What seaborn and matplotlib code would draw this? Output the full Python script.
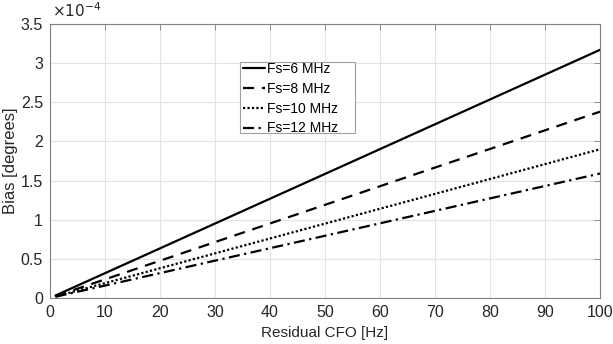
import numpy as np
import pandas as pd
import matplotlib
matplotlib.use("Agg")
import matplotlib.pyplot as plt
import seaborn as sns
from matplotlib.ticker import FuncFormatter
from matplotlib.patches import Rectangle

# Data
cfo_hz = [1, 100]
series_names = ["Fs=6 MHz", "Fs=8 MHz", "Fs=10 MHz", "Fs=12 MHz"]
bias_fs6 = [3.17e-6, 3.17e-4]
bias_fs8 = [2.38e-6, 2.38e-4]
bias_fs10 = [1.90e-6, 1.90e-4]
bias_fs12 = [1.59e-6, 1.59e-4]
x_ticks = [0, 10, 20, 30, 40, 50, 60, 70, 80, 90, 100]
y_ticks = [0, 0.5e-4, 1e-4, 1.5e-4, 2e-4, 2.5e-4, 3e-4, 3.5e-4]

rows = []
for name, vals in zip(series_names, [bias_fs6, bias_fs8, bias_fs10, bias_fs12]):
    for x, y in zip(cfo_hz, vals):
        rows.append({"cfo": x, "bias": y, "series": name})
df = pd.DataFrame(rows)

sns.set_style("white")
plt.rcParams["font.family"] = ["Liberation Sans", "DejaVu Sans"]

W, H = 613, 344
fig = plt.figure(figsize=(W / 100, H / 100), dpi=100)
ax = fig.add_axes([50 / W, 1 - 298 / H, 550 / W, 274 / H])

dashes = {
    "Fs=6 MHz": "",
    "Fs=8 MHz": (5, 3.5),
    "Fs=10 MHz": (1, 1),
    "Fs=12 MHz": (5, 2, 1, 2),
}
sns.lineplot(data=df, x="cfo", y="bias", style="series", dashes=dashes,
             color="black", linewidth=1.6, ax=ax, legend=True)

ax.set_xlim(0, 100)
ax.set_ylim(0, 3.5e-4)
ax.set_xticks(x_ticks)
ax.set_yticks(y_ticks)
ax.yaxis.set_major_formatter(FuncFormatter(lambda v, p: "%g" % round(v * 1e4, 3)))
ax.grid(True, color="#e3e3e3", linewidth=0.8)
ax.set_axisbelow(True)
for s in ax.spines.values():
    s.set_color("#808080")
    s.set_linewidth(0.8)
ax.tick_params(direction="in", length=4, width=0.6, color="#808080",
               labelsize=11.5, labelcolor="#262626", top=True, right=True,
               pad=5)
ax.set_xlabel("Residual CFO [Hz]", fontsize=11, color="#262626", labelpad=4)
ax.set_ylabel("Bias [degrees]", fontsize=12, color="#262626", labelpad=2)
ax.text(0.003, 1.015, r"$\times10^{-4}$", transform=ax.transAxes, fontsize=11,
        color="#262626", ha="left", va="bottom")

leg = ax.legend(loc="upper left", bbox_to_anchor=(243 / W, 1 - 62 / H),
                bbox_transform=fig.transFigure, fontsize=10,
                frameon=False, handlelength=1.6, handletextpad=0.1,
                borderpad=0.0, borderaxespad=0.0, labelspacing=0.42,
                title=None)
for t in leg.get_texts():
    t.set_color("black")
for h in leg.get_lines():
    h.set_linewidth(1.6)

frame = Rectangle((240 / W, 1 - 133 / H), 115 / W, 71 / H,
                  transform=fig.transFigure, facecolor="white",
                  edgecolor="#a0a0a0", linewidth=0.8, zorder=4)
ax.add_artist(frame)
leg.set_zorder(5)

fig.savefig("out.png", dpi=100, facecolor="white")
